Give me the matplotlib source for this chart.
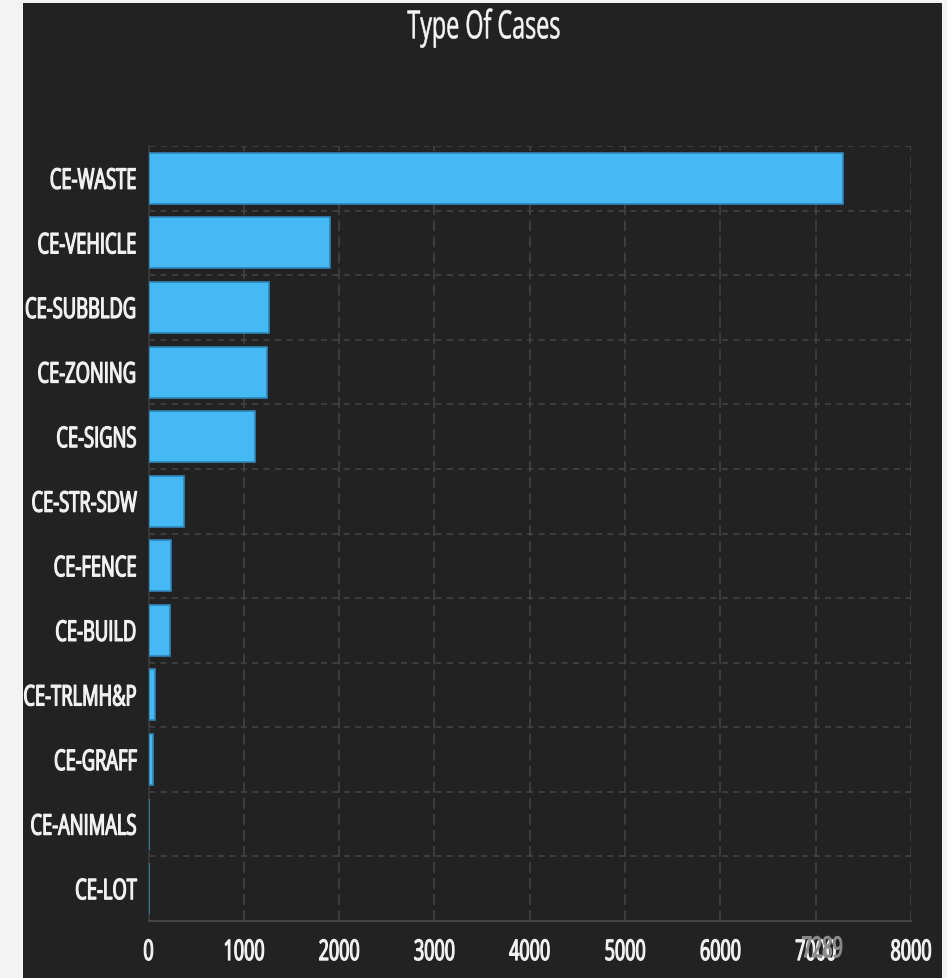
import matplotlib
matplotlib.use("Agg")
import matplotlib.pyplot as plt
from matplotlib.patches import Rectangle
from matplotlib.patheffects import AbstractPathEffect
from matplotlib.transforms import Affine2D, blended_transform_factory

# case counts per type
case_types = ['CE-WASTE', 'CE-VEHICLE', 'CE-SUBBLDG', 'CE-ZONING', 'CE-SIGNS',
              'CE-STR-SDW', 'CE-FENCE', 'CE-BUILD', 'CE-TRLMH&P', 'CE-GRAFF',
              'CE-ANIMALS', 'CE-LOT']
case_counts = [7289, 1905, 1268, 1247, 1121, 376, 233, 222, 68, 45, 0, 0]
x_ticks = [0, 1000, 2000, 3000, 4000, 5000, 6000, 7000, 8000]


class Squeeze(AbstractPathEffect):
    """Narrow the glyphs horizontally around one edge of the text,
    optionally thickening them with an outline of the fill colour."""

    def __init__(self, sx, anchor='center', stroke=0.0):
        super().__init__()
        self.sx = sx
        self.anchor = anchor
        self.stroke = stroke

    def draw_path(self, renderer, gc, tpath, affine, rgbFace=None):
        bb = tpath.get_extents(affine)
        if self.anchor == 'right':
            x0 = bb.x1
        elif self.anchor == 'left':
            x0 = bb.x0
        else:
            x0 = (bb.x0 + bb.x1) / 2
        t = affine + Affine2D().translate(-x0, 0).scale(self.sx, 1).translate(x0, 0)
        gc0 = renderer.new_gc()
        gc0.copy_properties(gc)
        if self.stroke > 0 and rgbFace is not None:
            gc0.set_linewidth(self.stroke)
            gc0.set_foreground(rgbFace)
        renderer.draw_path(gc0, tpath, t, rgbFace)
        gc0.restore()


plt.rcParams['font.family'] = ['Open Sans', 'DejaVu Sans']

W, H = 947, 979
fig = plt.figure(figsize=(W / 100, H / 100), dpi=100, facecolor='#f3f3f3')
fig.patches.append(Rectangle((22.7 / W, 0), (942 - 22.7) / W, (979 - 4) / H,
                             transform=fig.transFigure, facecolor='#222222',
                             edgecolor='none', zorder=-5))

ax = fig.add_axes([148.5 / W, (979 - 922) / H, (911 - 148.5) / W, (922 - 147) / H])
ax.set_facecolor('none')

y = list(range(len(case_types)))
ax.barh(y, case_counts, height=0.79, color='#46b9f5', edgecolor='#2d86b8',
        linewidth=1.2, zorder=3)

ax.set_xlim(0, 8000)
ax.set_ylim(len(case_types) - 0.5, -0.5)
ax.set_xticks(x_ticks)
ax.set_xticklabels([str(v) for v in x_ticks])
ax.set_yticks(y)
ax.set_yticklabels(case_types)
ax.set_yticks([k - 0.5 for k in range(len(case_types))], minor=True)

ax.xaxis.grid(True, which='major', color='#454545', linewidth=1.1,
              linestyle=(0, (7, 3.5)), zorder=1)
ax.yaxis.grid(True, which='minor', color='#454545', linewidth=1.1,
              linestyle=(0, (4, 3.5)), zorder=1)
ax.yaxis.grid(False, which='major')

for side in ['top', 'right']:
    ax.spines[side].set_visible(False)
ax.spines['left'].set_color('#3a3a3a')
ax.spines['bottom'].set_color('#444444')
ax.spines['left'].set_linewidth(1.2)
ax.spines['bottom'].set_linewidth(1.5)

ax.tick_params(axis='y', which='both', length=0, pad=8.3, labelsize=20.5,
               labelcolor='#f2f2f2')
ax.tick_params(axis='x', which='both', length=0, pad=13, labelsize=20.5,
               labelcolor='#f2f2f2')

for lab in ax.get_yticklabels():
    lab.set_path_effects([Squeeze(0.645, 'right', stroke=0.9)])
    lab.set_verticalalignment('center_baseline')
for lab in ax.get_xticklabels():
    lab.set_path_effects([Squeeze(0.63, 'center', stroke=0.9)])

# largest value printed under the axis, ending at its bar
trans = blended_transform_factory(ax.transData, ax.transAxes)
peak = max(case_counts)
ax.text(peak, -(951 - 922) / (922 - 147), str(peak), transform=trans,
        ha='right', va='center', fontsize=20.5, color='#8a8a8a', zorder=2,
        path_effects=[Squeeze(0.63, 'right', stroke=0.9)])

fig.text(484 / W, 1 - 29 / H, 'Type Of Cases', ha='center', va='center',
         fontsize=28, color='#f5f5f5',
         path_effects=[Squeeze(0.6, 'center', stroke=0.4)])

fig.savefig('out.png', dpi=100, facecolor=fig.get_facecolor())
